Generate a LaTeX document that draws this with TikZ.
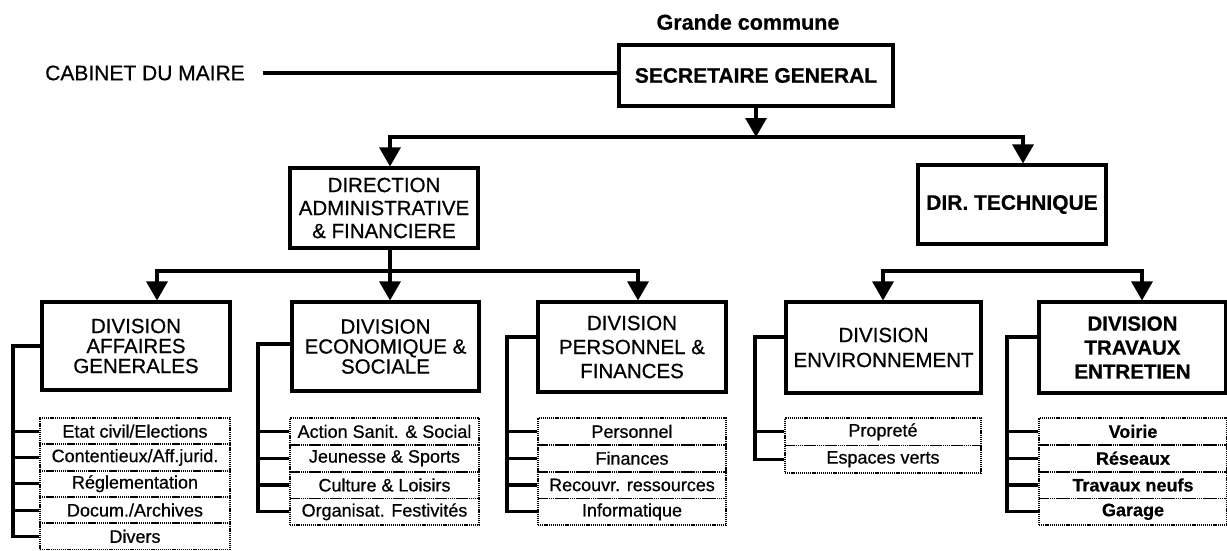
\documentclass[tikz,border=0pt]{standalone}
\usepackage{fontspec}
\setmainfont{Liberation Sans}[FakeBold=0.6,BoldFont={Liberation Sans Bold},BoldFeatures={FakeBold=0.6}]
\usetikzlibrary{arrows.meta,calc}

\begin{document}
\begin{tikzpicture}[x=1pt,y=-1pt,
  ln/.style={line width=3.1pt,line join=miter},
  arr/.style={ln,-{Triangle[length=19pt,width=21pt]}},
  arrs/.style={ln,{Triangle[length=19pt,width=21pt]}-{Triangle[length=19pt,width=21pt]}},
  box/.style={draw,line width=3.1pt,inner sep=0pt,align=center},
  divbox/.style={box,font=\fontsize{20.5}{20}\selectfont},
  sub/.style={draw,line width=1.8pt,dash pattern=on 1.2pt off 0.9pt,inner sep=0pt,
              font=\fontsize{18}{18}\selectfont},
]
\useasboundingbox[fill=white] (0,0) rectangle (1227,550);

% ---- top level
\node[font=\bfseries\fontsize{21.5}{21}\selectfont] (title) at (748,22) {Grande commune};
\node[box,minimum width=274pt,minimum height=61pt,font=\bfseries\fontsize{21}{21}\selectfont]
  (sg) at (756,75.5) {SECRETAIRE GENERAL};
\node[inner xsep=18pt,font=\fontsize{21}{21}\selectfont] (cab) at (145,73) {CABINET DU MAIRE};
\draw[ln] (cab.east) -- (cab.east -| sg.west);

% ---- directions
\node[box,minimum width=188pt,minimum height=80pt,font=\fontsize{20.5}{23}\selectfont]
  (daf) at (384,208) {DIRECTION\\ADMINISTRATIVE\\\& FINANCIERE};
\node[box,minimum width=188pt,minimum height=79pt,font=\bfseries\fontsize{21}{21}\selectfont]
  (dt) at (1012,204.5) {DIR. TECHNIQUE};

\coordinate (busTL) at (390,137);
\coordinate (busTR) at (1023,137);
\draw[arr] (sg.south) -- (sg.south |- busTL);
\draw[arrs] (busTL |- daf.north) -- (busTL) -- (busTR) -- (busTR |- dt.north);

% ---- divisions
\node[divbox,minimum width=188pt,minimum height=88pt] (ag) at (136,346)
  {DIVISION\\AFFAIRES\\GENERALES};
\node[divbox,minimum width=187pt,minimum height=89pt] (eco) at (385.5,346.5)
  {DIVISION\\ECONOMIQUE \&\\SOCIALE};
\node[divbox,minimum width=188pt,minimum height=90pt,font=\fontsize{20.5}{24}\selectfont] (pers) at (632,347)
  {DIVISION\\PERSONNEL \&\\FINANCES};
\node[divbox,minimum width=195pt,minimum height=91pt,font=\fontsize{20.5}{25}\selectfont] (env) at (883.5,347.5)
  {DIVISION\\ENVIRONNEMENT};
\node[divbox,minimum width=187pt,minimum height=91pt,font=\bfseries\fontsize{20.5}{24}\selectfont] (trav) at (1132.5,347.5)
  {DIVISION\\TRAVAUX\\ENTRETIEN};

\coordinate (busL1) at (157,271);
\coordinate (busL2) at (390,271);
\coordinate (busL3) at (638,271);
\draw[arrs] (busL1 |- ag.north) -- (busL1) -- (busL3) -- (busL3 |- pers.north);
\draw[arr] (busL2 |- daf.south) -- (busL2 |- eco.north);

\coordinate (busR1) at (883,271);
\coordinate (busR2) at (1142,271);
\draw[arrs] (busR1 |- env.north) -- (busR1) -- (busR2) -- (busR2 |- trav.north);

% ---- services
\foreach \t [count=\i] in {Etat civil/Elections,Contentieux/Aff.jurid.,R\'eglementation,Docum./Archives,Divers}
  \node[sub,minimum width=190pt,minimum height=26.3pt] (ag\i) at (135,{418+26.3*(\i-0.5)}) {\t};
\foreach \t [count=\i] in {Action Sanit. \& Social,Jeunesse \& Sports,Culture \& Loisirs,Organisat. Festivit\'es}
  \node[sub,minimum width=189pt,minimum height=26.8pt] (eco\i) at (384.5,{418+26.8*(\i-0.5)}) {\t};
\foreach \t [count=\i] in {Personnel,Finances,Recouvr. ressources,Informatique}
  \node[sub,minimum width=188pt,minimum height=26.8pt] (pers\i) at (632,{418+26.8*(\i-0.5)}) {\t};
\foreach \t [count=\i] in {Propret\'e,Espaces verts}
  \node[sub,minimum width=196pt,minimum height=27.5pt] (env\i) at (883,{418+27.5*(\i-0.5)}) {\t};
\foreach \t [count=\i] in {Voirie,R\'eseaux,Travaux neufs,Garage}
  \node[sub,minimum width=188pt,minimum height=26.8pt,font=\bfseries\fontsize{18}{18}\selectfont]
    (trav\i) at (1133,{418+26.8*(\i-0.5)}) {\t};

% ---- side brackets
\coordinate (bAG) at (13,346);
\coordinate (bECO) at (258,344);
\coordinate (bPERS) at (507,337);
\coordinate (bENV) at (755,337);
\coordinate (bTRAV) at (1007,337);

\draw[ln] (ag.west |- bAG) -- (bAG) -- (bAG |- ag5.west) -- (ag5.west);
\foreach \i in {1,...,4} \draw[ln] (bAG |- ag\i.west) -- (ag\i.west);

\draw[ln] (eco.west |- bECO) -- (bECO) -- (bECO |- eco4.west) -- (eco4.west);
\foreach \i in {1,2,3} \draw[ln] (bECO |- eco\i.west) -- (eco\i.west);

\draw[ln] (pers.west |- bPERS) -- (bPERS) -- (bPERS |- pers4.west) -- (pers4.west);
\foreach \i in {1,2,3} \draw[ln] (bPERS |- pers\i.west) -- (pers\i.west);

\draw[ln] (env.west |- bENV) -- (bENV) -- (bENV |- env2.west) -- (env2.west);
\draw[ln] (bENV |- env1.west) -- (env1.west);

\draw[ln] (trav.west |- bTRAV) -- (bTRAV) -- (bTRAV |- trav4.west) -- (trav4.west);
\foreach \i in {1,2,3} \draw[ln] (bTRAV |- trav\i.west) -- (trav\i.west);
\end{tikzpicture}
\end{document}
